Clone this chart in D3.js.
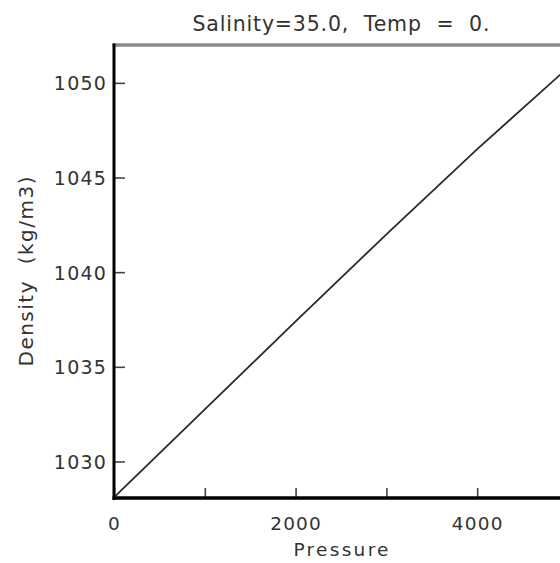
<!DOCTYPE html>
<html>
<head>
<meta charset="utf-8">
<script src="https://cdn.jsdelivr.net/npm/d3@7"></script>
<style>
  html, body { margin: 0; padding: 0; background: #fff; overflow: hidden; }
  svg { display: block; }
  text { font-family: "DejaVu Sans", sans-serif; fill: #333; }
</style>
</head>
<body>
<svg id="chart" width="560" height="563"></svg>
<script>
// Data
const pressure = [0, 1000, 2000, 3000, 4000, 5000];
const density  = [1028.1, 1032.75, 1037.4, 1042.0, 1046.5, 1050.8];
const xTicks = [0, 1000, 2000, 3000, 4000, 5000];
const xTickLabels = ["0", "", "2000", "", "4000", ""];
const yTicks = [1030, 1035, 1040, 1045, 1050];
const yTickLabels = ["1030", "1035", "1040", "1045", "1050"];
const xDomain = [0, 5000];
const yDomain = [1028.07, 1052.0];
const titleText = "Salinity=35.0,  Temp  =  0.";
const xLabel = "Pressure";
const yLabel = "Density  (kg/m3)";

const svg = d3.select("#chart");
const pLeft = 114, pRight = 568, pTop = 45, pBottom = 498;

const x = d3.scaleLinear().domain(xDomain).range([pLeft, pRight]);
const y = d3.scaleLinear().domain(yDomain).range([pBottom, pTop]);

// Data line
const pts = pressure.map((p, i) => [p, density[i]]);
svg.append("path")
  .datum(pts)
  .attr("fill", "none")
  .attr("stroke", "#2a2a2a")
  .attr("stroke-width", 1.8)
  .attr("d", d3.line().x(d => x(d[0])).y(d => y(d[1])));

// Top frame (grey)
svg.append("line")
  .attr("x1", pLeft - 1.5).attr("x2", pRight + 2)
  .attr("y1", pTop).attr("y2", pTop)
  .attr("stroke", "#8a8a8a").attr("stroke-width", 3.5);
// Right frame (off screen)
svg.append("line")
  .attr("x1", pRight).attr("x2", pRight)
  .attr("y1", pTop).attr("y2", pBottom)
  .attr("stroke", "#000").attr("stroke-width", 3);

// Bottom axis
const xAxis = d3.axisBottom(x)
  .tickValues(xTicks)
  .tickSize(0)
  .tickFormat((d, i) => xTickLabels[i]);
const gx = svg.append("g").attr("transform", `translate(0,${pBottom})`).call(xAxis);
gx.select(".domain").remove();
gx.selectAll(".tick text")
  .attr("y", 32)
  .attr("dy", 0)
  .style("font-size", "18.5px")
  .style("letter-spacing", "1.2px")
  .style("fill", "#333");
gx.selectAll(".tick").append("line")
  .attr("x1", 0).attr("x2", 0)
  .attr("y1", 0).attr("y2", -10)
  .attr("stroke", "#444").attr("stroke-width", 1.6);

// Left axis
const yAxis = d3.axisLeft(y)
  .tickValues(yTicks)
  .tickSize(0)
  .tickFormat((d, i) => yTickLabels[i]);
const gy = svg.append("g").attr("transform", `translate(${pLeft},0)`).call(yAxis);
gy.select(".domain").remove();
gy.selectAll(".tick text")
  .attr("x", -7)
  .attr("dy", "0.36em")
  .style("font-size", "19px")
  .style("letter-spacing", "1.2px")
  .style("fill", "#333");
gy.selectAll(".tick").append("line")
  .attr("x1", 0).attr("x2", 11)
  .attr("y1", 0).attr("y2", 0)
  .attr("stroke", "#444").attr("stroke-width", 1.6);

// Axis lines (black, thick)
svg.append("line")
  .attr("x1", pLeft).attr("x2", pLeft)
  .attr("y1", pTop - 1.5).attr("y2", pBottom + 2)
  .attr("stroke", "#000").attr("stroke-width", 3);
svg.append("line")
  .attr("x1", pLeft - 1.5).attr("x2", pRight + 2)
  .attr("y1", pBottom).attr("y2", pBottom)
  .attr("stroke", "#000").attr("stroke-width", 3.5);

// Title
svg.append("text")
  .attr("x", (pLeft + pRight) / 2)
  .attr("y", 31)
  .attr("text-anchor", "middle")
  .attr("textLength", 297)
  .attr("lengthAdjust", "spacing")
  .style("font-size", "20.5px")
  .style("white-space", "pre")
  .text(titleText);

// X label
svg.append("text")
  .attr("x", (pLeft + pRight) / 2)
  .attr("y", 556)
  .attr("text-anchor", "middle")
  .attr("textLength", 95)
  .attr("lengthAdjust", "spacing")
  .style("font-size", "18.5px")
  .text(xLabel);

// Y label
svg.append("text")
  .attr("transform", `translate(33,${(pTop + pBottom) / 2}) rotate(-90)`)
  .attr("text-anchor", "middle")
  .attr("textLength", 190)
  .attr("lengthAdjust", "spacing")
  .style("font-size", "20px")
  .style("white-space", "pre")
  .text(yLabel);
</script>
</body>
</html>
